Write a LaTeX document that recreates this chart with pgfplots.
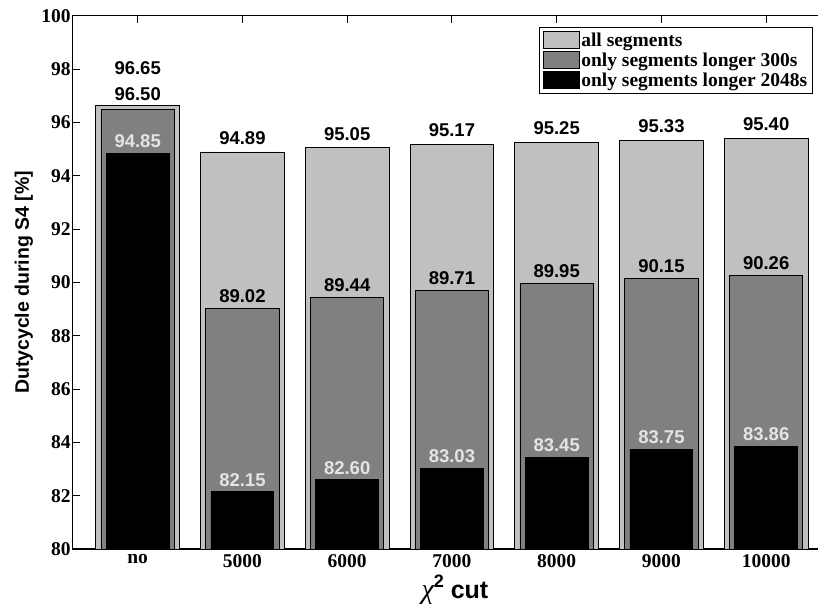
\documentclass[border=0pt]{standalone}
\usepackage{pgfplots}
\pgfplotsset{compat=1.18}
\usepackage{pgfplotstable}
\usepackage{fontspec}
\setmainfont{Liberation Sans}
\newfontfamily\tnr{Liberation Serif}
\definecolor{lightbar}{RGB}{192,192,192}
\definecolor{midbar}{RGB}{128,128,128}
\definecolor{lbl}{RGB}{228,228,228}

\pgfplotstableread{
x y s
0 96.65 1
1 94.89 0
2 95.05 0
3 95.17 0
4 95.25 0
5 95.33 0
6 95.40 0
}\allseg
\pgfplotstableread{
x y s
0 96.50 1
1 89.02 0
2 89.44 0
3 89.71 0
4 89.95 0
5 90.15 0
6 90.26 0
}\midseg
\pgfplotstableread{
x y
0 94.85
1 82.15
2 82.60
3 83.03
4 83.45
5 83.75
6 83.86
}\longseg

\begin{document}
\begin{tikzpicture}
\path[use as bounding box] (0,0) rectangle (818pt,606pt);
\begin{axis}[
  at={(72.7pt,57pt)}, anchor=south west,
  scale only axis, width=758.4pt, height=533.3pt,
  xmin=-0.62, xmax=6.62, ymin=80, ymax=100,
  xtick={0,1,2,3,4,5,6},
  xticklabels={no,5000,6000,7000,8000,9000,10000},
  ytick={80,82,84,86,88,90,92,94,96,98,100},
  ytick pos=left,
  tick align=inside, major tick length=7pt,
  tick style={black, line width=1pt},
  axis line style={black, line width=1.3pt},
  /pgf/number format/assume math mode=true,
  tick label style={font=\tnr\bfseries\fontsize{19.5}{22}\selectfont},
  xticklabel style={yshift=-2pt},
  yticklabel style={xshift=1.5pt},
  ylabel={Dutycycle during S4 [\%]},
  ylabel style={at={([xshift=-48.7pt]axis description cs:0,0.5)}, anchor=center, rotate=0, font=\bfseries\fontsize{19.5}{22}\selectfont},
  xlabel={{\tnr\mdseries\itshape\fontsize{28}{30}\selectfont χ}\raisebox{11pt}{\fontsize{18}{20}\selectfont 2} cut},
  xlabel style={at={([yshift=-49pt,xshift=3pt]axis description cs:0.5,0)}, anchor=base, font=\bfseries\fontsize{25}{28}\selectfont},
  legend style={at={(axis description cs:0.9757,0.9794)}, anchor=north east,
    draw=black, line width=1pt, inner xsep=3.5pt, inner ysep=4pt,
    row sep=2pt, font=\tnr\bfseries\fontsize{19.5}{22}\selectfont,
    nodes={inner sep=1.5pt}},
  legend cell align=left,
  legend image code/.code={\draw[#1] (0pt,-8.5pt) rectangle (36pt,8.5pt);},
  nodes near coords={\pgfmathprintnumber[fixed,fixed zerofill,precision=2]{\pgfplotspointmeta}},
  every node near coord/.append style={font=\bfseries\fontsize{18.5}{20}\selectfont, inner sep=0pt, anchor=south},
]
\addplot[ybar, bar width=0.8, bar shift=0pt, fill=lightbar, draw=black, line width=0.8pt,
  point meta=y, visualization depends on={\thisrow{s} \as \sh},
  every node near coord/.append style={yshift={7pt+23pt*\sh}, text=black}]
  table[x=x, y=y] {\allseg};
\addlegendentry{all segments}
\addplot[ybar, bar width=0.7, bar shift=0pt, fill=midbar, draw=black, line width=0.8pt,
  point meta=y, visualization depends on={\thisrow{s} \as \shm},
  every node near coord/.append style={yshift={5.5pt+2.8pt*\shm}, text=black}]
  table[x=x, y=y] {\midseg};
\addlegendentry{only segments longer 300s}
\addplot[ybar, bar width=0.6, bar shift=0pt, fill=black, draw=black, line width=0.8pt,
  point meta=y, every node near coord/.append style={yshift=5pt, text=lbl}]
  table[x=x, y=y] {\longseg};
\addlegendentry{only segments longer 2048s}
\end{axis}
\end{tikzpicture}
\end{document}
